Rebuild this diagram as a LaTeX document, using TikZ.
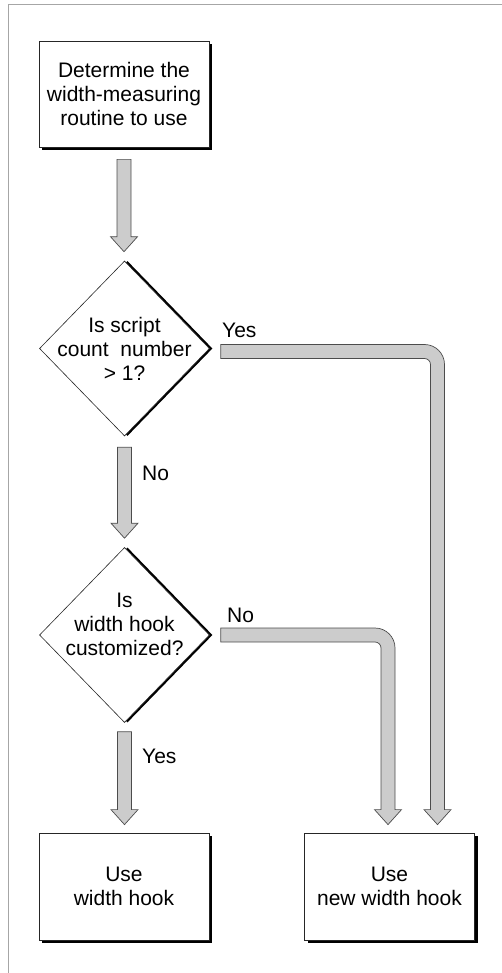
\documentclass[tikz,border=0pt]{standalone}
\usepackage{fontspec}
\setmainfont{Liberation Sans}
\usetikzlibrary{shapes.geometric,shadows,calc}
\tikzset{
  box/.style={draw=black!85, line width=0.8pt, fill=white, minimum width=170pt, minimum height=106pt, inner sep=0pt, align=center,
    drop shadow={shadow xshift=3pt, shadow yshift=-3pt, fill=black, opacity=1}},
  decision/.style={draw=black!85, line width=0.6pt, fill=white, shape=diamond, minimum width=170pt, minimum height=175pt, inner sep=0pt,
    drop shadow={shadow xshift=3pt, shadow yshift=0pt, fill=black, opacity=1}},
  pipe/.style={fill=gray!40, draw=black!70, line width=0.7pt, line join=miter},
  lbl/.style={anchor=base west, inner sep=0pt},
  frame/.style={draw=black!35, line width=1pt}
}
\newcommand\straightpipe[2]{\filldraw[pipe] let \p1=(#1), \p2=(#2) in
  (\x1-7pt,\y1) -- (\x1+7pt,\y1) -- (\x1+7pt,\y2+15pt) -- (\x1+13.5pt,\y2+15pt)
  -- (\x1,\y2) -- (\x1-13.5pt,\y2+15pt) -- (\x1-7pt,\y2+15pt) -- cycle;}
\newcommand\bentpipe[2]{\filldraw[pipe] let \p1=(#1), \p2=(#2) in
  (\x1,\y1+7pt) -- (\x2-13pt,\y1+7pt)
  .. controls (\x2-1.95pt,\y1+7pt) and (\x2+7pt,\y1-1.95pt) .. (\x2+7pt,\y1-13pt)
  -- (\x2+7pt,\y2+15pt) -- (\x2+13.5pt,\y2+15pt) -- (\x2,\y2) -- (\x2-13.5pt,\y2+15pt)
  -- (\x2-7pt,\y2+15pt) -- (\x2-7pt,\y1-13pt)
  .. controls (\x2-7pt,\y1-9.69pt) and (\x2-9.69pt,\y1-7pt) .. (\x2-13pt,\y1-7pt)
  -- (\x1,\y1-7pt) -- cycle;}
\begin{document}
\begin{tikzpicture}[x=1pt,y=-1pt,font=\fontsize{21pt}{24pt}\selectfont]
\useasboundingbox (0,0) rectangle (502,973);
\coordinate (fbl) at (8.5,973);
\coordinate (ftl) at (8.5,5);
\coordinate (ftr) at (502,5);
\draw[frame] (fbl) -- (ftl) -- (ftr);

\node[box] (b1) at (124,94) {Determine the\\width-measuring\\routine to use};
\node[decision, label={[align=center]center:{Is script\\count\ \ number\\> 1?}}] (d1) at (124.5,348.5) {};
\node[decision, label={[align=center,yshift=11pt]center:{Is\\width hook\\customized?}}] (d2) at (124.5,635) {};
\node[box, minimum height=107pt] (b2) at (124,886.5) {Use\\width hook};
\node[box, minimum height=107pt] (b3) at (389.5,886.5) {Use\\new width hook};

\straightpipe{[yshift=-12pt]b1.south}{[yshift=9pt]d1.north}
\straightpipe{[yshift=-11pt]d1.south}{[yshift=9pt]d2.north}
\straightpipe{[yshift=-9pt]d2.south}{[yshift=8pt]b2.north}
\bentpipe{[xshift=11pt,yshift=-3pt]d1.east}{[xshift=48pt,yshift=8pt]b3.north}
\bentpipe{[xshift=11pt]d2.east}{[xshift=-1.5pt,yshift=8pt]b3.north}

\node[lbl] (lyes1) at (222,337) {Yes};
\node[lbl] (lno1) at (142,480) {No};
\node[lbl] (lno2) at (227,622) {No};
\node[lbl] (lyes2) at (142,763) {Yes};
\end{tikzpicture}
\end{document}
